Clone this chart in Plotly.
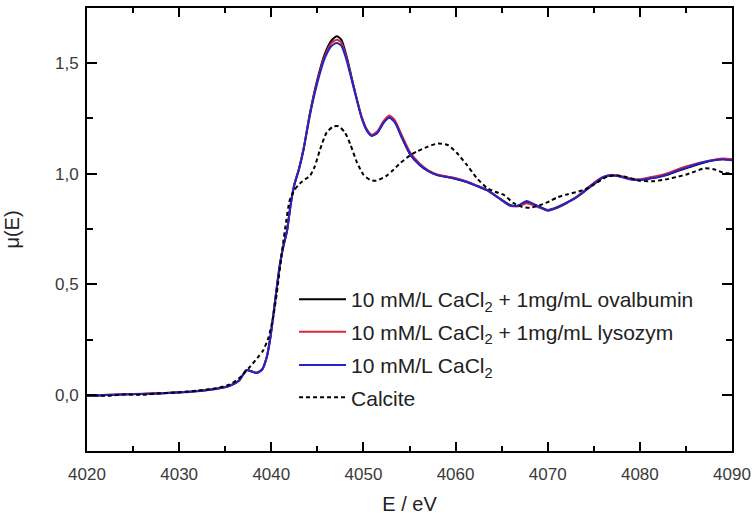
import plotly.graph_objects as go

# ---- data ----
E_main = [4020.0, 4022.0, 4024.0, 4026.0, 4028.0, 4030.0, 4032.0, 4034.0, 4035.5, 4036.5,
          4037.3, 4037.8, 4038.4, 4039.0, 4039.5, 4039.9, 4040.4, 4040.9, 4041.3, 4041.7,
          4042.1, 4042.5, 4043.0, 4043.5, 4044.2, 4045.0, 4045.8, 4046.5, 4047.1, 4047.6,
          4048.2, 4049.0, 4049.8, 4050.4, 4050.9, 4051.5, 4052.2, 4052.8, 4053.4, 4054.2,
          4055.1, 4056.1, 4057.0, 4058.0, 4059.7, 4061.2, 4062.3, 4063.4, 4064.6, 4065.9,
          4066.8, 4067.7, 4068.4, 4069.2, 4070.0, 4071.0, 4072.0, 4073.0, 4074.0, 4075.0,
          4076.0, 4077.0, 4078.0, 4079.0, 4080.0, 4081.0, 4082.0, 4083.0, 4084.0, 4085.0,
          4086.0, 4087.0, 4088.0, 4089.0, 4090.0]

mu_ovalbumin = [-0.005, 0.000, 0.003, 0.005, 0.008, 0.012, 0.018, 0.028, 0.042, 0.065,
                0.113, 0.108, 0.100, 0.115, 0.170, 0.260, 0.420, 0.580, 0.670, 0.740,
                0.860, 0.950, 1.020, 1.110, 1.275, 1.425, 1.540, 1.600, 1.620, 1.605,
                1.525, 1.385, 1.255, 1.195, 1.172, 1.185, 1.232, 1.255, 1.235, 1.160,
                1.084, 1.039, 1.012, 0.994, 0.980, 0.963, 0.945, 0.926, 0.893, 0.858,
                0.855, 0.873, 0.862, 0.848, 0.836, 0.848, 0.868, 0.890, 0.920, 0.952,
                0.982, 0.993, 0.986, 0.975, 0.972, 0.978, 0.985, 0.995, 1.010, 1.024,
                1.038, 1.050, 1.060, 1.066, 1.062]

mu_lysozym = [-0.004, 0.001, 0.003, 0.006, 0.008, 0.012, 0.018, 0.028, 0.042, 0.066,
              0.112, 0.107, 0.100, 0.116, 0.172, 0.262, 0.422, 0.582, 0.672, 0.742,
              0.862, 0.952, 1.022, 1.112, 1.270, 1.418, 1.530, 1.588, 1.605, 1.592,
              1.518, 1.382, 1.258, 1.198, 1.176, 1.190, 1.238, 1.262, 1.242, 1.170,
              1.094, 1.046, 1.016, 0.996, 0.982, 0.965, 0.946, 0.926, 0.893, 0.856,
              0.852, 0.866, 0.858, 0.844, 0.834, 0.846, 0.866, 0.892, 0.924, 0.958,
              0.985, 0.994, 0.988, 0.978, 0.974, 0.982, 0.990, 1.002, 1.018, 1.032,
              1.044, 1.054, 1.062, 1.068, 1.065]

mu_cacl2 = [-0.005, 0.000, 0.002, 0.005, 0.007, 0.011, 0.017, 0.027, 0.041, 0.064,
            0.112, 0.107, 0.099, 0.114, 0.168, 0.258, 0.418, 0.578, 0.668, 0.738,
            0.858, 0.948, 1.018, 1.108, 1.265, 1.410, 1.520, 1.575, 1.590, 1.578,
            1.508, 1.378, 1.252, 1.192, 1.170, 1.183, 1.230, 1.252, 1.232, 1.160,
            1.086, 1.040, 1.012, 0.993, 0.979, 0.962, 0.944, 0.925, 0.892, 0.856,
            0.856, 0.876, 0.864, 0.848, 0.832, 0.845, 0.866, 0.889, 0.920, 0.954,
            0.984, 0.992, 0.985, 0.973, 0.970, 0.977, 0.984, 0.996, 1.012, 1.026,
            1.040, 1.052, 1.060, 1.064, 1.060]

E_calcite = [4020.0, 4022.0, 4024.0, 4026.0, 4028.0, 4030.0, 4032.0, 4034.0, 4035.5, 4036.5,
             4037.7, 4038.5, 4039.1, 4039.7, 4040.2, 4040.6, 4041.2, 4041.6, 4042.0, 4042.5,
             4043.1, 4043.7, 4044.2, 4044.7, 4045.3, 4046.0, 4046.7, 4047.3, 4048.0, 4048.6,
             4049.3, 4050.0, 4050.7, 4051.4, 4052.5, 4053.2, 4054.0, 4055.0, 4055.8, 4057.0,
             4058.1, 4059.2, 4060.1, 4061.2, 4062.3, 4063.4, 4064.3, 4065.2, 4066.3, 4067.2,
             4068.1, 4069.2, 4070.2, 4071.0, 4072.0, 4073.8, 4075.0, 4076.4, 4077.5, 4078.5,
             4080.0, 4081.5, 4083.0, 4084.0, 4085.0, 4086.0, 4087.0, 4088.0, 4089.0, 4090.0]

mu_calcite = [0.000, -0.004, 0.002, 0.001, 0.008, 0.012, 0.020, 0.030, 0.048, 0.075,
              0.128, 0.168, 0.200, 0.260, 0.350, 0.460, 0.660, 0.780, 0.880, 0.925,
              0.955, 0.975, 0.990, 1.030, 1.110, 1.185, 1.212, 1.214, 1.185, 1.130,
              1.050, 0.995, 0.972, 0.968, 0.990, 1.015, 1.048, 1.080, 1.100, 1.122,
              1.136, 1.128, 1.095, 1.040, 0.980, 0.935, 0.918, 0.905, 0.867, 0.850,
              0.846, 0.858, 0.875, 0.892, 0.905, 0.925, 0.950, 0.985, 0.992, 0.985,
              0.968, 0.966, 0.975, 0.985, 0.995, 1.010, 1.024, 1.020, 1.005, 1.000]

labels = ["10 mM/L CaCl<sub>2</sub> + 1mg/mL ovalbumin",
          "10 mM/L CaCl<sub>2</sub> + 1mg/mL lysozym",
          "10 mM/L CaCl<sub>2</sub>",
          "Calcite"]

x_ticks = [4020, 4030, 4040, 4050, 4060, 4070, 4080, 4090]
y_ticks = [0.0, 0.5, 1.0, 1.5]

# ---- figure ----
FONT = "Liberation Sans, Arial"
fig = go.Figure()
fig.add_trace(go.Scatter(x=E_main, y=mu_ovalbumin, mode="lines", name=labels[0],
                         legend="legend",
                         line=dict(color="#000000", width=2, shape="spline", smoothing=0.6)))
fig.add_trace(go.Scatter(x=E_main, y=mu_lysozym, mode="lines", name=labels[1],
                         legend="legend2",
                         line=dict(color="#d8263a", width=2, shape="spline", smoothing=0.6)))
fig.add_trace(go.Scatter(x=E_main, y=mu_cacl2, mode="lines", name=labels[2],
                         legend="legend3",
                         line=dict(color="#2424c8", width=2, shape="spline", smoothing=0.6)))
fig.add_trace(go.Scatter(x=E_calcite, y=mu_calcite, mode="lines", name=labels[3],
                         legend="legend4",
                         line=dict(color="#000000", width=2, dash="4px,3px",
                                   shape="spline", smoothing=0.6)))

axis_common = dict(showline=True, linecolor="#000000", linewidth=2, mirror="ticks",
                   ticks="inside", tickcolor="#000000", tickwidth=2, showgrid=False,
                   zeroline=False, automargin=False,
                   tickfont=dict(family=FONT, size=17, color="#3a3a3a"))

fig.update_xaxes(range=[4020, 4090], tickvals=x_ticks, ticklen=9, ticklabelstandoff=7,
                 minor=dict(dtick=5, ticks="inside", ticklen=5, tickwidth=2,
                            tickcolor="#000000"),
                 title=dict(text="E / eV", standoff=15,
                            font=dict(family=FONT, size=20, color="#222222")),
                 **axis_common)
fig.update_yaxes(range=[-0.253, 1.748], tickvals=y_ticks, tickformat=".1f", ticklen=10,
                 ticklabelstandoff=3,
                 minor=dict(dtick=0.25, ticks="inside", ticklen=6, tickwidth=2,
                            tickcolor="#000000"),
                 title=dict(text="μ(E)", standoff=30,
                            font=dict(family=FONT, size=20, color="#222222")),
                 **axis_common)

# one single-entry legend per row, so each row sits where the reference has it
legend_style = dict(x=0.321, xanchor="left", yanchor="middle",
                    bgcolor="rgba(0,0,0,0)", borderwidth=0, itemwidth=47,
                    font=dict(family=FONT, size=21, color="#222222"))

fig.update_layout(
    width=754, height=515,
    margin=dict(l=87, r=22, t=8, b=64, autoexpand=False),
    paper_bgcolor="#ffffff", plot_bgcolor="#ffffff",
    separators=",.",
    showlegend=True,
    legend=dict(y=0.342, **legend_style),
    legend2=dict(y=0.2686, **legend_style),
    legend3=dict(y=0.1935, **legend_style),
    legend4=dict(y=0.1203, **legend_style),
)

# remove the default page margin so the 754x515 figure fills the window exactly
fig.write_html("out.html",
               config={"displayModeBar": False},
               post_script="document.body.style.margin='0px';"
                           "document.body.style.overflow='hidden';")
